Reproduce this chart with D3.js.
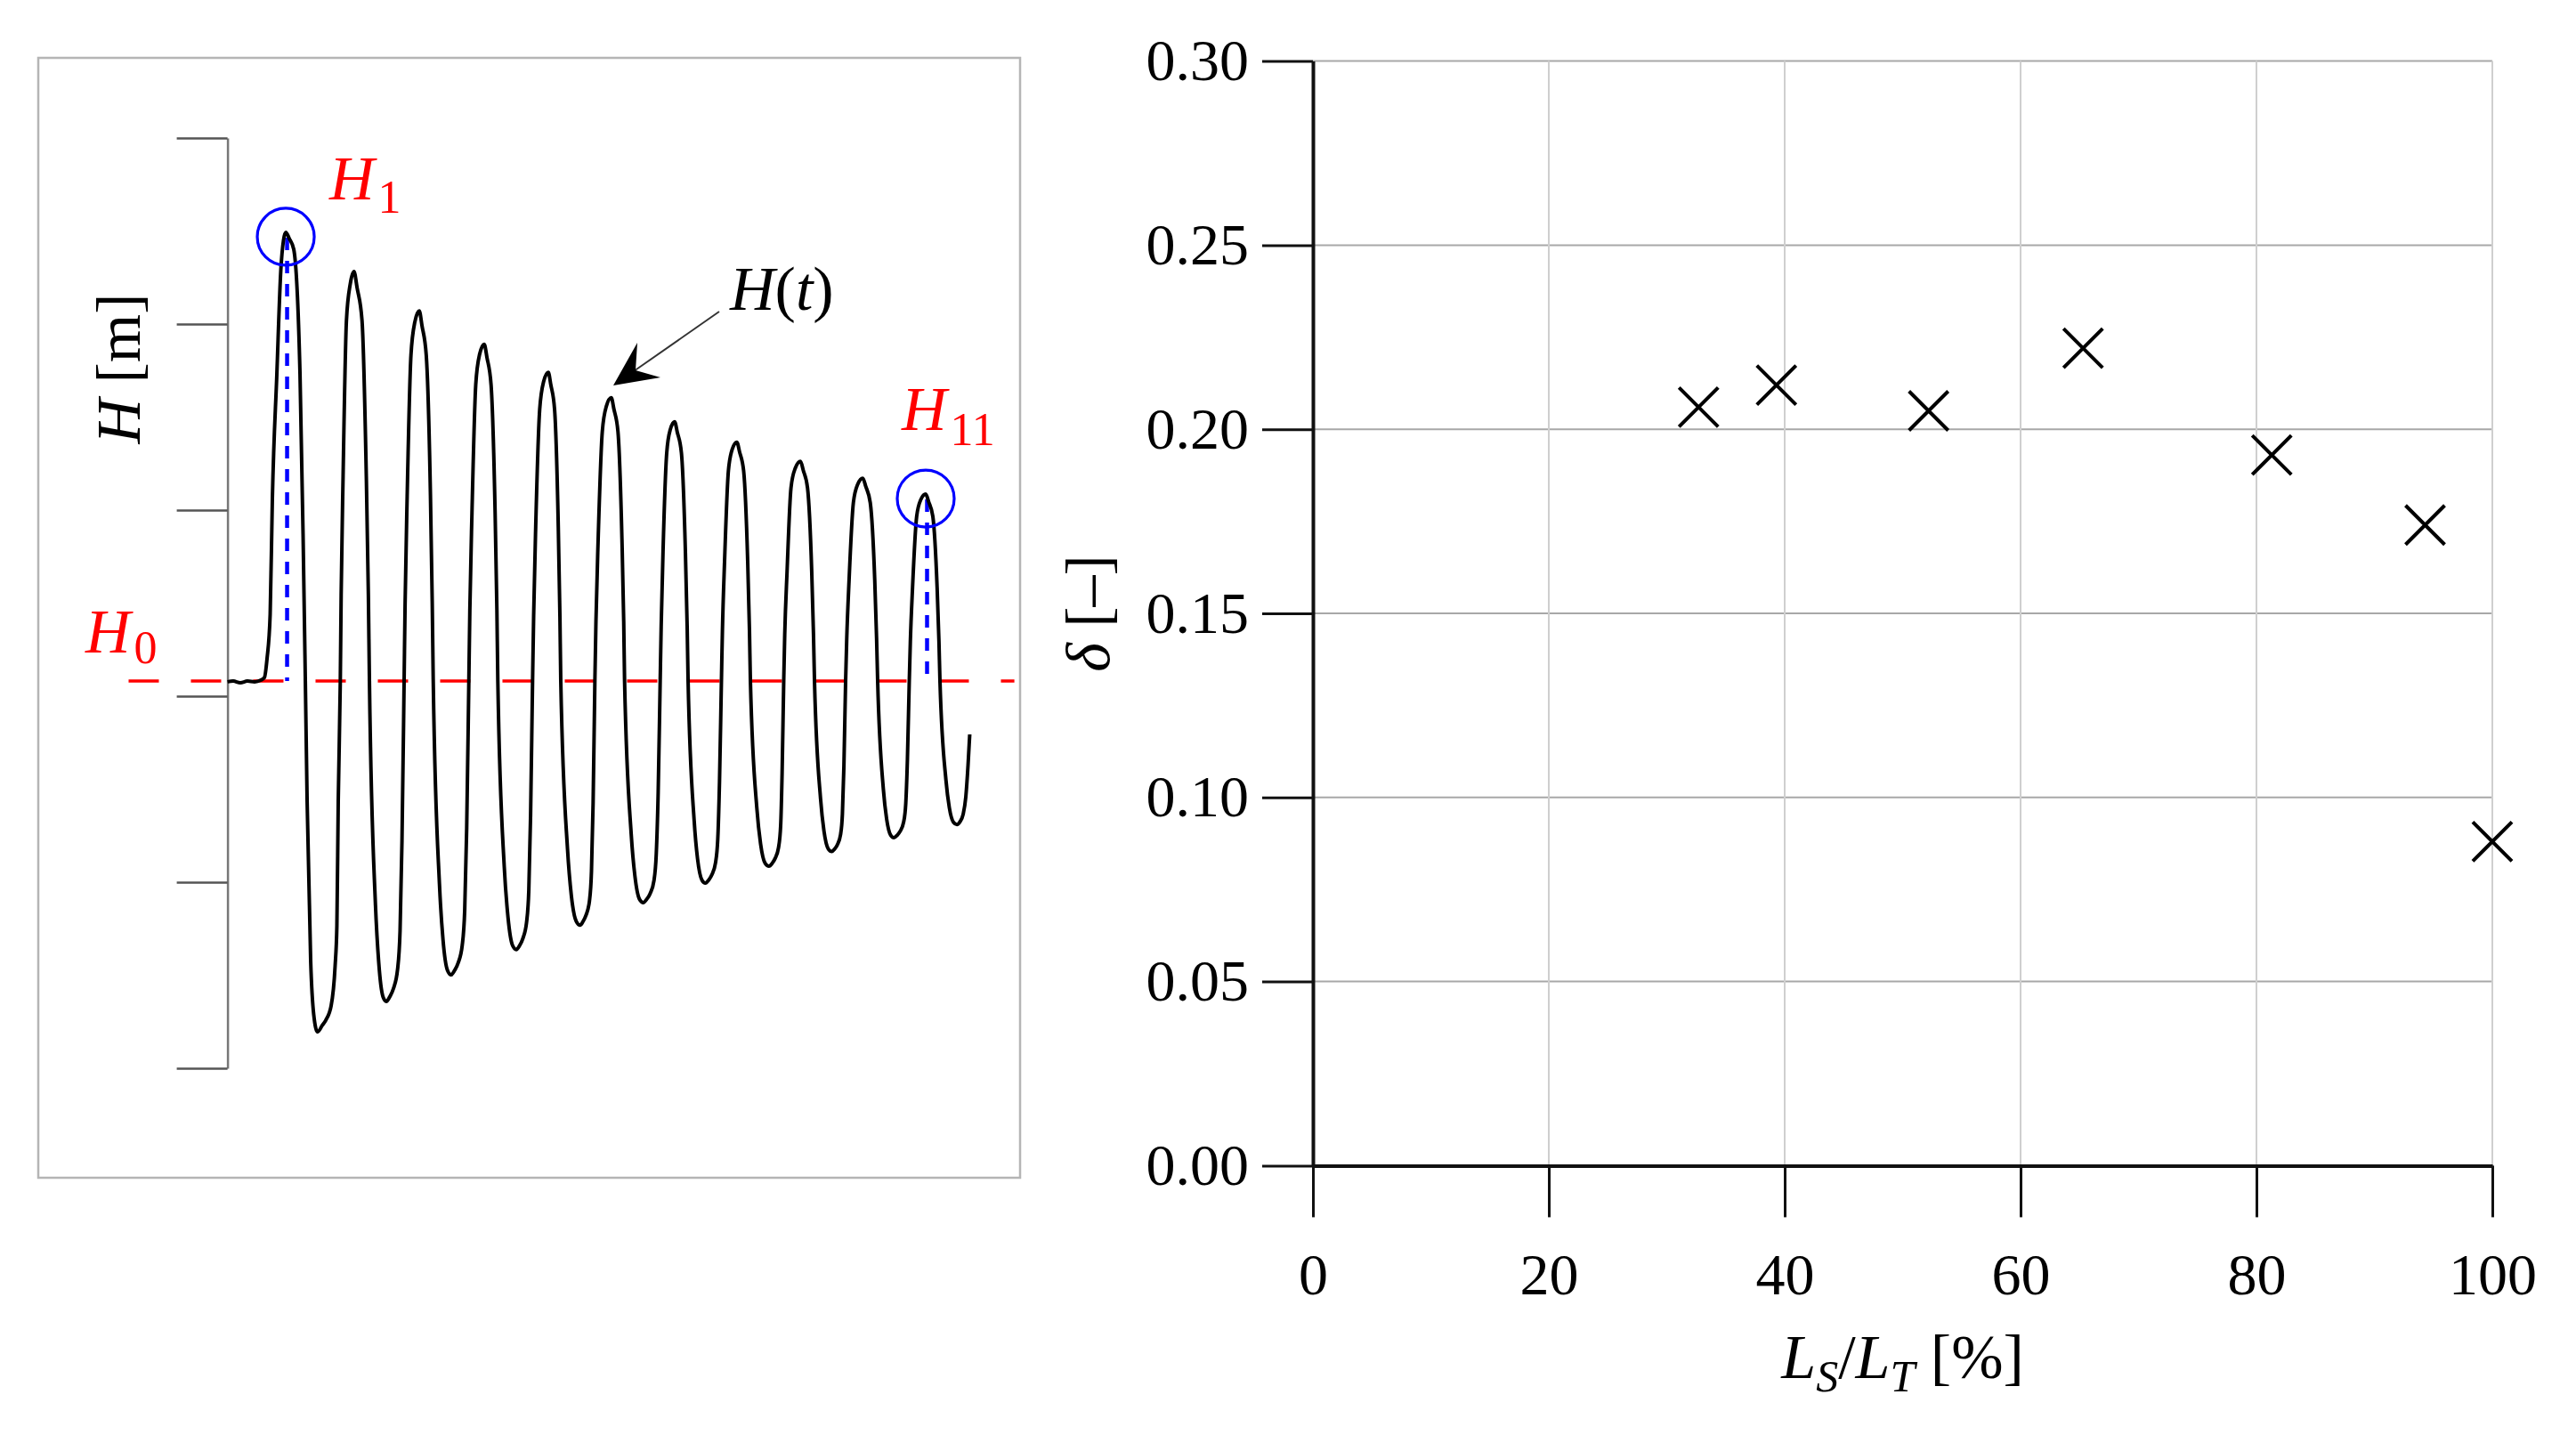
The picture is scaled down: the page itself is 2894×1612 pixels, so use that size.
<!DOCTYPE html>
<html>
<head>
<meta charset="utf-8">
<script src="https://cdn.jsdelivr.net/npm/d3@7"></script>
<style>
  body { margin: 0; background: #fff; }
  text { font-family: "Liberation Serif", "Times New Roman", serif; }
</style>
</head>
<body>
<div id="chart"></div>
<script>
// left panel: water level H(t) (t in s, H in m)
const tSec = [
  0, 0.080, 0.180, 0.280, 0.380, 0.468, 0.518, 0.555, 0.599, 0.630, 0.693, 0.749, 0.786, 0.818, 0.868, 0.930,
  1.018, 1.061, 1.093, 1.118, 1.168, 1.211, 1.264, 1.330, 1.380, 1.455, 1.511, 1.536, 1.555, 1.584,
  1.596, 1.623, 1.670, 1.724, 1.776, 1.820, 1.889, 1.949, 1.978, 1.993, 2.076, 2.124, 2.183, 2.230, 2.280, 2.330, 2.388, 2.423, 2.450, 2.480,
  2.494, 2.523, 2.576, 2.631, 2.693, 2.731, 2.791, 2.850, 2.875, 2.889, 2.976, 3.026, 3.089, 3.139, 3.189, 3.239, 3.296, 3.331, 3.359, 3.389,
  3.403, 3.433, 3.486, 3.540, 3.605, 3.644, 3.701, 3.758, 3.783, 3.796, 3.886, 3.939, 4.004, 4.055, 4.101, 4.146, 4.199, 4.231, 4.256, 4.284,
  4.299, 4.328, 4.384, 4.439, 4.505, 4.540, 4.593, 4.645, 4.668, 4.680, 4.775, 4.829, 4.898, 4.951, 4.993, 5.034, 5.083, 5.111, 5.134, 5.159,
  5.174, 5.205, 5.263, 5.320, 5.389, 5.426, 5.483, 5.539, 5.564, 5.576, 5.669, 5.721, 5.786, 5.839, 5.886, 5.934, 5.989, 6.021, 6.048, 6.076,
  6.090, 6.116, 6.168, 6.218, 6.279, 6.316, 6.374, 6.430, 6.455, 6.468, 6.553, 6.601, 6.663, 6.711, 6.756, 6.801, 6.853, 6.885, 6.909, 6.936,
  6.950, 6.980, 7.034, 7.088, 7.153, 7.190, 7.248, 7.305, 7.330, 7.343, 7.434, 7.486, 7.551, 7.604, 7.648, 7.688, 7.738, 7.768, 7.788, 7.811,
  7.825, 7.858, 7.913, 7.974, 8.046, 8.085, 8.145, 8.204, 8.229, 8.243, 8.328, 8.376, 8.438, 8.486, 8.525, 8.564, 8.609, 8.635, 8.656, 8.680,
  8.696, 8.729, 8.789, 8.849, 8.921, 8.963, 9.026, 9.089, 9.115, 9.130, 9.210, 9.256, 9.314, 9.360, 9.403, 9.445, 9.495, 9.525, 9.548, 9.574,
  9.589, 9.620, 9.678, 9.736, 9.805, 9.845, 9.905, 9.965, 9.991, 10.005, 10.089, 10.136, 10.195, 10.243, 10.286, 10.330, 10.368, 10.399, 10.423
];
const hMeters = [
  2.077, 2.081, 2.072, 2.081, 2.077, 2.086, 2.100, 2.201, 2.440, 3.062, 3.732, 4.292, 4.450, 4.493, 4.459, 4.402,
  3.732, 2.871, 2.081, 1.435, 0.574, 0.287, 0.195, 0.230, 0.258, 0.335, 0.550, 0.766, 1.435, 2.081,
  2.544, 3.182, 4.018, 4.216, 4.282, 4.194, 4.018, 3.182, 2.544, 2.081, 0.893, 0.566, 0.385, 0.359, 0.385, 0.428, 0.531, 0.738, 1.220, 2.081,
  2.499, 3.076, 3.832, 4.011, 4.070, 3.991, 3.832, 3.076, 2.499, 2.081, 0.992, 0.692, 0.526, 0.502, 0.526, 0.566, 0.660, 0.850, 1.292, 2.081,
  2.461, 2.986, 3.674, 3.837, 3.891, 3.819, 3.674, 2.986, 2.461, 2.081, 1.085, 0.811, 0.659, 0.638, 0.659, 0.696, 0.782, 0.956, 1.359, 2.081,
  2.430, 2.911, 3.541, 3.690, 3.740, 3.674, 3.541, 2.911, 2.430, 2.081, 1.176, 0.926, 0.789, 0.769, 0.789, 0.822, 0.900, 1.058, 1.425, 2.081,
  2.401, 2.843, 3.422, 3.558, 3.604, 3.543, 3.422, 2.843, 2.401, 2.081, 1.259, 1.033, 0.908, 0.890, 0.908, 0.938, 1.009, 1.152, 1.486, 2.081,
  2.374, 2.778, 3.308, 3.433, 3.475, 3.419, 3.308, 2.778, 2.374, 2.081, 1.332, 1.125, 1.011, 0.995, 1.011, 1.039, 1.104, 1.234, 1.538, 2.081,
  2.351, 2.723, 3.211, 3.327, 3.365, 3.314, 3.211, 2.723, 2.351, 2.081, 1.395, 1.206, 1.101, 1.086, 1.101, 1.126, 1.186, 1.305, 1.584, 2.081,
  2.329, 2.671, 3.120, 3.226, 3.262, 3.214, 3.120, 2.671, 2.329, 2.081, 1.449, 1.275, 1.178, 1.165, 1.178, 1.201, 1.256, 1.367, 1.623, 2.081,
  2.310, 2.626, 3.040, 3.138, 3.171, 3.127, 3.040, 2.626, 2.310, 2.081, 1.500, 1.340, 1.252, 1.239, 1.252, 1.273, 1.323, 1.424, 1.660, 2.081,
  2.292, 2.584, 2.966, 3.056, 3.086, 3.046, 2.966, 2.584, 2.292, 2.081, 1.549, 1.402, 1.322, 1.310, 1.325, 1.364, 1.459, 1.627, 1.794
];
const h0 = 2.081;
const peakT = [0.818, 9.805];
const peakH = [4.493, 3.086];
const hTicks = [0, 1, 2, 3, 4, 5];

// right panel: damping ratio against relative length
const lsPct = [32.7, 39.3, 52.2, 65.3, 81.3, 94.3, 100];
const deltaVals = [0.206, 0.212, 0.205, 0.222, 0.193, 0.174, 0.088];
const xTicks = [0, 20, 40, 60, 80, 100];
const yTicks = [0, 0.05, 0.10, 0.15, 0.20, 0.25, 0.30];

const width = 2894, height = 1612;
const svg = d3.select("#chart").append("svg")
  .attr("width", width).attr("height", height)
  .style("background", "#fff");

// ---------- left panel ----------
const left = svg.append("g");
left.append("rect")
  .attr("x", 43).attr("y", 65).attr("width", 1103).attr("height", 1258)
  .attr("fill", "none").attr("stroke", "#b5b5b5").attr("stroke-width", 2.5);

const xH = d3.scaleLinear().domain([0, 11.1]).range([255.6, 1143.6]);
const yH = d3.scaleLinear().domain([0, 5]).range([1200, 155]);

const axH = left.append("g")
  .attr("transform", "translate(255.6,0)")
  .call(d3.axisLeft(yH).tickValues(hTicks).tickSize(57).tickSizeOuter(0).tickFormat(""));
axH.select(".domain").attr("stroke", "#777").attr("stroke-width", 2.5);
axH.selectAll(".tick line").attr("stroke", "#555").attr("stroke-width", 2.5);

left.append("text")
  .attr("transform", "translate(157,414) rotate(-90)")
  .attr("text-anchor", "middle").attr("font-size", 70)
  .call(t => {
    t.append("tspan").attr("font-style", "italic").text("H");
    t.append("tspan").text(" [m]");
  });

// H0 reference line
left.append("line")
  .attr("x1", xH(-1.389)).attr("x2", xH(11.05))
  .attr("y1", yH(h0)).attr("y2", yH(h0))
  .attr("stroke", "#ff0000").attr("stroke-width", 3.5)
  .attr("stroke-dasharray", "34 36");

// dotted peak markers
left.selectAll(".peakline").data(peakT).enter().append("line")
  .attr("x1", d => xH(d) + 1.5).attr("x2", d => xH(d) + 1.5)
  .attr("y1", (d, i) => yH(peakH[i]) + 6).attr("y2", yH(h0))
  .attr("stroke", "#0000ff").attr("stroke-width", 4.5)
  .attr("stroke-dasharray", "14 12");

// wave trace
const trace = tSec.map((t, i) => [t, hMeters[i]]);
left.append("path")
  .datum(trace)
  .attr("fill", "none").attr("stroke", "#000").attr("stroke-width", 4)
  .attr("stroke-linejoin", "round")
  .attr("d", d3.line().x(d => xH(d[0])).y(d => yH(d[1])).curve(d3.curveMonotoneX));

left.selectAll(".peakring").data(peakT).enter().append("circle")
  .attr("cx", d => xH(d)).attr("cy", (d, i) => yH(peakH[i]) + 5)
  .attr("r", 32)
  .attr("fill", "none").attr("stroke", "#0000ff").attr("stroke-width", 3.2);

function subLabel(g, x, y, sub, color, shift) {
  const t = g.append("text").attr("x", x).attr("y", y)
    .attr("font-size", 70).attr("fill", color);
  t.append("tspan").attr("font-style", "italic").text("H");
  t.append("tspan").attr("font-size", 52).attr("dx", 4).attr("dy", shift).text(sub);
}
subLabel(left, 96, 733, "0", "#ff0000", 12);
subLabel(left, 370, 224, "1", "#ff0000", 15);
subLabel(left, 1013, 483, "11", "#ff0000", 17);

// H(t) pointer
left.append("text")
  .attr("x", 820).attr("y", 348).attr("font-size", 70)
  .call(t => {
    t.append("tspan").text("H").attr("font-style", "italic");
    t.append("tspan").text("(");
    t.append("tspan").text("t").attr("font-style", "italic");
    t.append("tspan").text(")");
  });
left.append("line")
  .attr("x1", 808).attr("y1", 350).attr("x2", 712).attr("y2", 417)
  .attr("stroke", "#333").attr("stroke-width", 2);
left.append("path")
  .attr("d", "M689,433L716,385L714,416L742,424Z")
  .attr("fill", "#000");

// ---------- right panel ----------
const right = svg.append("g");
const xR = d3.scaleLinear().domain([0, 100]).range([1475, 2800]);
const yR = d3.scaleLinear().domain([0, 0.30]).range([1309.4, 68.6]);

right.selectAll(".hgrid").data(yTicks.filter(d => d > 0)).enter().append("line")
  .attr("x1", xR(0)).attr("x2", xR(100))
  .attr("y1", d => yR(d)).attr("y2", d => yR(d))
  .attr("stroke", "#a8a8a8").attr("stroke-width", 2);
right.selectAll(".vgrid").data(xTicks.filter(d => d > 0)).enter().append("line")
  .attr("x1", d => xR(d)).attr("x2", d => xR(d))
  .attr("y1", yR(0)).attr("y2", yR(0.30))
  .attr("stroke", "#cfcfcf").attr("stroke-width", 2);

const axY = right.append("g")
  .attr("transform", `translate(${xR(0)},0)`)
  .call(d3.axisLeft(yR).tickValues(yTicks).tickSize(57).tickSizeOuter(0)
    .tickPadding(15).tickFormat(d3.format(".2f")));
const axX = right.append("g")
  .attr("transform", `translate(0,${yR(0)})`)
  .call(d3.axisBottom(xR).tickValues(xTicks).tickSize(58).tickSizeOuter(0)
    .tickPadding(40).tickFormat(d3.format("d")));
[axY, axX].forEach(ax => {
  ax.select(".domain").attr("stroke", "#111").attr("stroke-width", 4);
  ax.selectAll(".tick line").attr("stroke", "#111").attr("stroke-width", 3);
  ax.selectAll(".tick text").attr("font-size", 66)
    .attr("font-family", "Liberation Serif").attr("fill", "#000");
});

right.selectAll(".mark").data(lsPct).enter().append("path")
  .attr("transform", (d, i) => `translate(${xR(d)},${yR(deltaVals[i])})`)
  .attr("d", "M-22,-22L22,22M-22,22L22,-22")
  .attr("stroke", "#000").attr("stroke-width", 4).attr("fill", "none");

right.append("text")
  .attr("transform", `translate(1246,${(yR(0) + yR(0.30)) / 2}) rotate(-90)`)
  .attr("text-anchor", "middle").attr("font-size", 70)
  .call(t => {
    t.append("tspan").attr("font-style", "italic").text("δ");
    t.append("tspan").text(" [–]");
  });

right.append("text")
  .attr("x", (xR(0) + xR(100)) / 2).attr("y", 1548)
  .attr("text-anchor", "middle").attr("font-size", 70)
  .call(t => {
    t.append("tspan").attr("font-style", "italic").text("L");
    t.append("tspan").attr("font-style", "italic").attr("font-size", 50).attr("dy", 15).text("S");
    t.append("tspan").attr("dy", -15).text("/");
    t.append("tspan").attr("font-style", "italic").text("L");
    t.append("tspan").attr("font-style", "italic").attr("font-size", 50).attr("dy", 15).text("T");
    t.append("tspan").attr("dy", -15).text(" [%]");
  });
</script>
</body>
</html>
